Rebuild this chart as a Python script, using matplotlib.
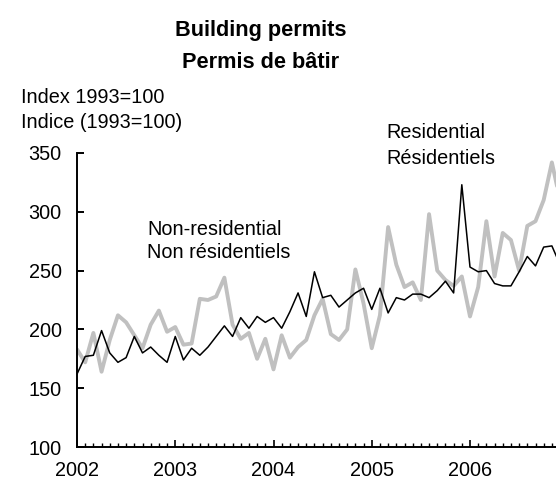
import numpy as np
import matplotlib.pyplot as plt

plt.rcParams['font.family'] = ['Liberation Sans', 'DejaVu Sans']

# ==============================================================
# monthly index values, Jan 2002 onwards (1993=100)
start_year = 2002
residential = [183, 172, 197, 164, 191, 212, 206, 195, 184, 204, 216, 198,
               202, 187, 188, 226, 225, 228, 244, 204, 192, 197, 175, 192,
               166, 195, 176, 185, 191, 212, 226, 196, 191, 200, 251, 222,
               184, 212, 287, 255, 236, 240, 225, 298, 250, 242, 237, 245,
               211, 236, 292, 245, 282, 276, 250, 288, 292, 310, 342, 310]
non_residential = [162, 177, 178, 199, 180, 172, 176, 194, 180, 185, 178, 172,
                   194, 174, 184, 178, 185, 194, 203, 194, 210, 201, 211, 206,
                   210, 201, 215, 231, 211, 249, 227, 229, 219, 225, 231, 235,
                   217, 235, 214, 227, 225, 230, 230, 227, 233, 241, 231, 323,
                   253, 249, 250, 239, 237, 237, 249, 262, 254, 270, 271, 255]
year_ticks = [2002, 2003, 2004, 2005, 2006]

months_res = start_year + np.arange(len(residential)) / 12
months_non = start_year + np.arange(len(non_residential)) / 12

# ==============================================================
# Visualization
TICKSFONT = 14.3
TITLEFONT = 15.7

f = plt.figure(figsize=(5.56, 4.86), dpi=100)
ax = f.add_axes([77 / 556, 39 / 486, 479 / 556, 294 / 486])

ax.plot(months_res, residential, color='#c0c0c0', lw=2.8,
        solid_joinstyle='round', solid_capstyle='round')
ax.plot(months_non, non_residential, color='black', lw=1.1,
        solid_joinstyle='round')

ax.set_xlim(2002, 2002 + 479 / 98.25)
ax.set_ylim(100, 350)
ax.set_yticks([100, 150, 200, 250, 300, 350])
ax.set_xticks(year_ticks)
ax.set_xticks(start_year + np.arange(0, 59) / 12, minor=True)
ax.set_xticklabels([str(y) for y in year_ticks])

for side in ('top', 'right'):
    ax.spines[side].set_visible(False)
for side in ('left', 'bottom'):
    ax.spines[side].set_linewidth(1.4)

ax.tick_params(axis='y', direction='in', length=5, width=1.4,
               labelsize=TICKSFONT, pad=11)
ax.tick_params(axis='x', which='major', direction='in', length=5, width=1.2,
               labelsize=TICKSFONT, pad=10)
ax.tick_params(axis='x', which='minor', direction='in', length=3, width=1.0)

# titles and labels
f.text(261 / 556, 1 - 30 / 486, "Building permits", ha='center', va='center',
       fontsize=TITLEFONT, fontweight='bold')
f.text(261 / 556, 1 - 62 / 486, "Permis de bâtir", ha='center', va='center',
       fontsize=TITLEFONT, fontweight='bold')
f.text(21 / 556, 1 - 97 / 486, "Index 1993=100", ha='left', va='center',
       fontsize=TICKSFONT)
f.text(21 / 556, 1 - 122 / 486, "Indice (1993=100)", ha='left', va='center',
       fontsize=TICKSFONT)

f.text(386 / 556, 1 - 132 / 486, "Residential", ha='left', va='center',
       fontsize=TICKSFONT)
f.text(386 / 556, 1 - 158 / 486, "Résidentiels", ha='left', va='center',
       fontsize=TICKSFONT)
f.text(147 / 556, 1 - 229 / 486, "Non-residential", ha='left', va='center',
       fontsize=TICKSFONT)
f.text(147 / 556, 1 - 253 / 486, "Non résidentiels", ha='left', va='center',
       fontsize=TICKSFONT)

f.savefig("out.png", dpi=100)
